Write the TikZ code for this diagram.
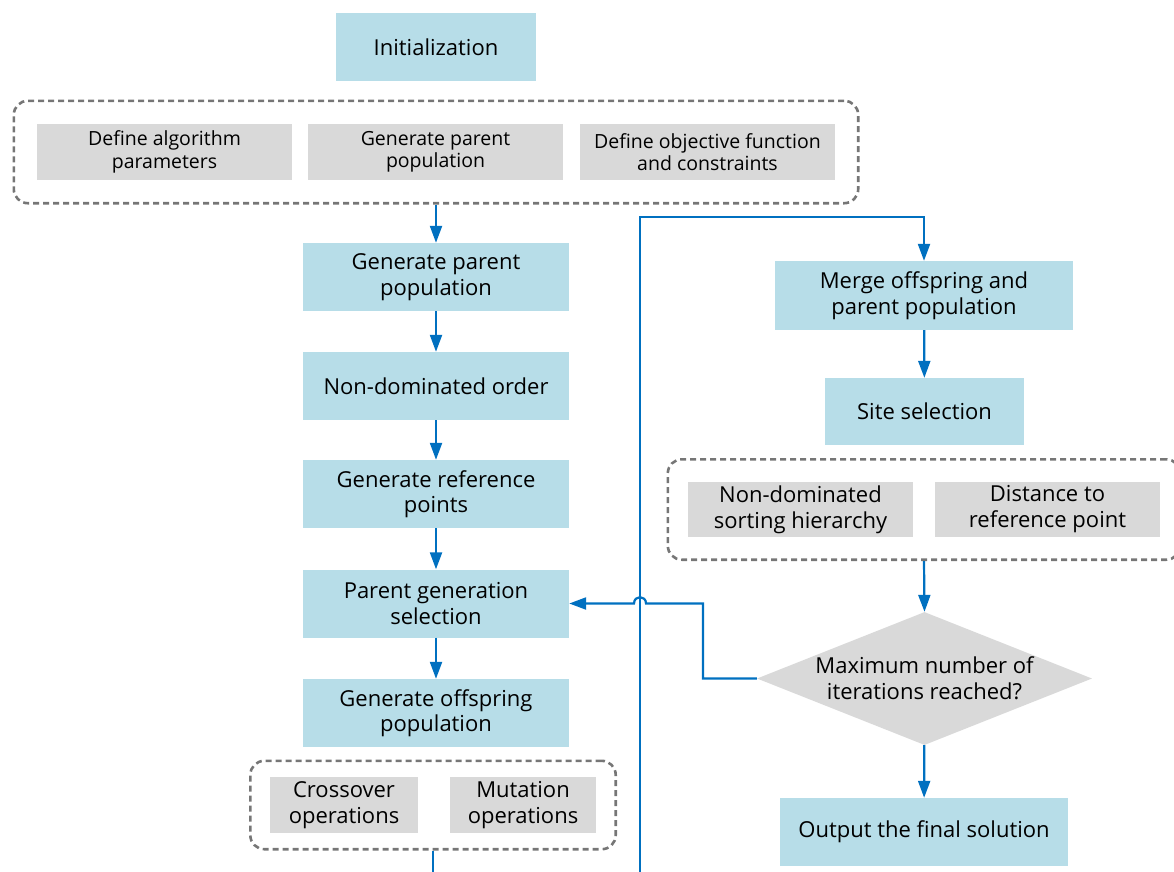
\documentclass[tikz,border=0pt]{standalone}
\usepackage{fontspec}
\setmainfont{Open Sans}
\usetikzlibrary{positioning, arrows.meta, shapes.geometric, fit}
\definecolor{BoxBlue}{RGB}{183,221,232}
\definecolor{BoxGray}{RGB}{217,217,217}
\definecolor{FlowBlue}{RGB}{0,112,192}
\definecolor{DashGray}{RGB}{118,118,118}
\tikzset{
  process/.style={fill=BoxBlue, minimum width=266pt, minimum height=68pt, inner sep=0pt, align=center, font=\fontsize{22}{25.5}\selectfont},
  subtask/.style={fill=BoxGray, minimum width=255pt, minimum height=56pt, inner sep=0pt, align=center, font=\fontsize{22}{26}\selectfont},
  small subtask/.style={subtask, font=\fontsize{19.5}{22.5}\selectfont},
  group/.style={draw=DashGray, line width=2.6pt, dash pattern=on 6pt off 4pt, rounded corners=14pt, inner sep=0pt},
  decision/.style={diamond, fill=BoxGray, aspect=2.52, minimum width=335pt, minimum height=133pt, inner sep=-6pt, align=center, font=\fontsize{22}{26}\selectfont},
  flow/.style={draw=FlowBlue, line width=2.2pt, -{Triangle[length=17pt, width=12pt]}},
  link/.style={draw=FlowBlue, line width=2.2pt}
}

\begin{document}
\begin{tikzpicture}[x=1pt, y=-1pt]
  \useasboundingbox (0,0) rectangle (1174,871);
  \clip (0,0) rectangle (1174,871);

  % Initialization and setup
  \node[process, minimum width=200pt] (init) at (436,47) {Initialization};
  \node[small subtask] (param) at (164.5,152) {Define algorithm\\parameters};
  \node[small subtask] (popul) at (435.5,152) {Generate parent\\population};
  \node[small subtask] (objfn) at (707.5,152) {Define objective function\\and constraints};
  \node[group, fit=(param)(popul)(objfn), inner xsep=23pt, inner ysep=23pt] (setup) {};

  % Main loop, left column
  \node[process] (gen) at (436,277) {Generate parent\\population};
  \node[process] (nondom) at (436,386) {Non-dominated order};
  \node[process] (refpts) at (436,494) {Generate reference\\points};
  \node[process] (parsel) at (436,603.5) {Parent generation\\selection};
  \node[process] (offspr) at (436,713) {Generate offspring\\population};
  \node[subtask, minimum width=148pt] (cross) at (344,805) {Crossover\\operations};
  \node[subtask, minimum width=146pt] (mutat) at (523,805) {Mutation\\operations};
  \node[group, fit=(cross)(mutat), inner xsep=19.5pt, inner ysep=16pt] (genops) {};

  % Right column
  \node[process, minimum width=298pt, minimum height=69pt] (merge) at (924,295.5) {Merge offspring and\\parent population};
  \node[process, minimum width=199pt, minimum height=67pt] (site) at (924.5,411.5) {Site selection};
  \node[subtask, minimum width=225pt, minimum height=55pt] (sortlv) at (800.5,509.5) {Non-dominated\\sorting hierarchy};
  \node[subtask, minimum width=225pt, minimum height=55pt] (refdst) at (1047.5,509.5) {Distance to\\reference point};
  \node[group, fit=(sortlv)(refdst), inner xsep=20pt, inner ysep=22.5pt] (selcrit) {};
  \node[decision] (maxit) at (924.5,678.5) {Maximum number of\\iterations reached?};
  \node[process, minimum width=288pt] (final) at (924,832) {Output the final solution};

  % Connectors
  \draw[flow] (setup.south) -- (gen.north);
  \draw[flow] (gen) -- (nondom);
  \draw[flow] (nondom) -- (refpts);
  \draw[flow] (refpts) -- (parsel);
  \draw[flow] (parsel) -- (offspr);
  \draw[flow] (merge) -- (site);
  \draw[flow] (selcrit.south) -- (maxit.north);
  \draw[flow] (maxit) -- (final);

  % Loop back to merge
  \coordinate (loopdown) at (640,900);
  \coordinate (loopup) at (640,217);
  \draw[flow] (genops.south) |- (loopdown) -- (loopup) -| (merge.north);

  % Not reached: back to parent selection, hopping over the loop line
  \coordinate (turn) at (703,603.5);
  \coordinate (hopR) at (646,603.5);
  \coordinate (hopL) at (634,603.5);
  \draw[flow] (maxit.west) -| (turn) -- (hopR)
    .. controls (646,595) and (634,595) .. (hopL) -- (parsel.east);
\end{tikzpicture}
\end{document}
